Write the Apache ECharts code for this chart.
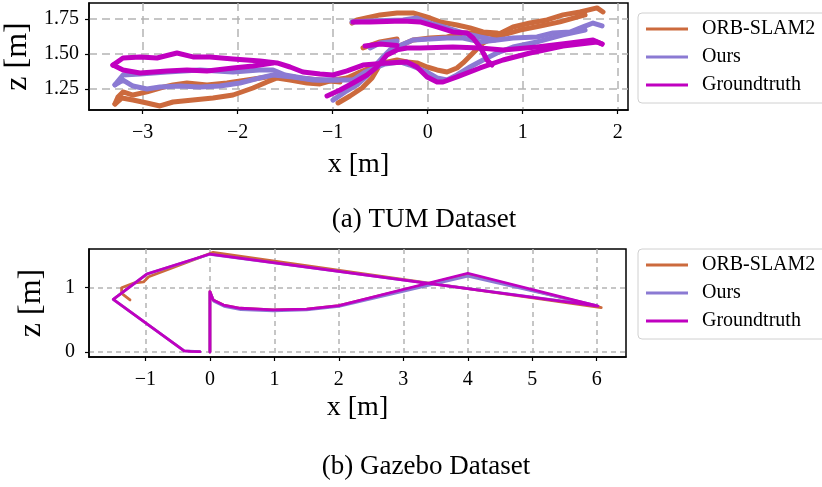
<!DOCTYPE html>
<html>
<head>
<meta charset="utf-8">
<script src="https://cdn.jsdelivr.net/npm/echarts@6/dist/echarts.min.js"></script>
<style>
  html, body { margin: 0; padding: 0; background: #fff; }
  #chart { width: 822px; height: 487px; }
</style>
</head>
<body>
<div id="chart"></div>
<script>
// tick values
const tumXTicks = [-3, -2, -1, 0, 1, 2]
const tumZTicks = [1.25, 1.5, 1.75]
const gzXTicks = [-1, 0, 1, 2, 3, 4, 5, 6]
const gzZTicks = [0, 1]

// TUM trajectories [x, z], each method split into polylines
const tumOrb = [
  [[-3.292,1.143],[-3.218,1.186],[-3.102,1.171],[-2.955,1.150],[-2.818,1.129],[-2.681,1.157],[-2.471,1.171],[-2.260,1.186],[-2.049,1.207],[-1.839,1.257],[-1.692,1.300],[-1.586,1.329],[-1.449,1.314],[-1.271,1.293],[-1.134,1.286],[-0.997,1.314],[-0.849,1.329]],
  [[-3.292,1.143],[-3.260,1.193],[-3.207,1.229],[-3.102,1.207],[-2.955,1.229],[-2.818,1.257],[-2.681,1.279],[-2.534,1.293],[-2.323,1.279],[-2.113,1.293],[-1.902,1.314],[-1.692,1.336],[-1.502,1.343],[-1.344,1.329],[-1.134,1.314],[-0.923,1.300]],
  [[-0.944,1.150],[-0.818,1.200],[-0.691,1.257],[-0.586,1.329],[-0.524,1.400],[-0.471,1.471],[-0.397,1.514],[-0.323,1.550],[-0.155,1.600],[0.024,1.614],[0.203,1.621],[0.372,1.650],[0.551,1.650],[0.729,1.636],[0.898,1.693],[1.077,1.721],[1.256,1.743],[1.424,1.779],[1.603,1.800],[1.782,1.829],[1.845,1.800]],
  [[-0.849,1.329],[-0.713,1.371],[-0.607,1.400],[-0.471,1.436],[-0.323,1.457],[-0.218,1.443],[-0.113,1.436],[-0.007,1.407],[0.098,1.386],[0.203,1.371],[0.308,1.400],[0.372,1.436],[0.477,1.507],[0.582,1.579],[0.687,1.614],[0.792,1.636],[0.971,1.671],[1.182,1.700],[1.392,1.729],[1.656,1.779]],
  [[-0.797,1.721],[-0.744,1.743],[-0.502,1.779],[-0.323,1.793],[-0.155,1.793],[0.024,1.757],[0.129,1.729],[0.308,1.707],[0.445,1.686],[0.582,1.657],[0.729,1.650]],
  [[-0.681,1.543],[-0.502,1.586],[-0.323,1.607]]
]
const tumOurs = [
  [[-3.292,1.279],[-3.207,1.314],[-3.102,1.271],[-2.955,1.250],[-2.818,1.264],[-2.607,1.271],[-2.397,1.264],[-2.187,1.271],[-1.976,1.293],[-1.765,1.329],[-1.628,1.350],[-1.418,1.336],[-1.207,1.314],[-0.997,1.314],[-0.786,1.314]],
  [[-3.292,1.279],[-3.207,1.350],[-3.028,1.357],[-2.744,1.371],[-2.397,1.386],[-2.049,1.371],[-1.776,1.386],[-1.628,1.386],[-1.502,1.350],[-1.323,1.329],[-1.155,1.314],[-0.944,1.314]],
  [[-0.997,1.171],[-0.870,1.229],[-0.744,1.279],[-0.639,1.343],[-0.555,1.414],[-0.481,1.471],[-0.397,1.529],[-0.155,1.600],[0.203,1.614],[0.372,1.614],[0.551,1.586],[0.729,1.600],[0.898,1.614],[1.151,1.621],[1.319,1.650],[1.498,1.657],[1.635,1.693],[1.740,1.721],[1.835,1.700]],
  [[-0.786,1.314],[-0.660,1.371],[-0.450,1.429],[-0.292,1.443],[-0.187,1.421],[-0.007,1.371],[0.098,1.329],[0.203,1.314],[0.308,1.350],[0.445,1.407],[0.582,1.457],[0.729,1.507],[0.898,1.550],[1.151,1.586],[1.424,1.636],[1.656,1.671]],
  [[-0.797,1.729],[-0.607,1.736],[-0.260,1.743],[-0.113,1.757],[0.024,1.721],[0.203,1.686],[0.372,1.650],[0.551,1.621],[0.708,1.600]],
  [[-0.607,1.543],[-0.502,1.579],[-0.323,1.593]]
]
const tumGt = [
  [[-3.313,1.421],[-3.207,1.471],[-3.028,1.479],[-2.849,1.471],[-2.639,1.507],[-2.471,1.479],[-2.292,1.479],[-2.049,1.464],[-1.765,1.450],[-1.586,1.436],[-1.449,1.407],[-1.313,1.371],[-1.134,1.357],[-0.997,1.350],[-0.849,1.379],[-0.681,1.421],[-0.428,1.436],[-0.218,1.443],[-0.113,1.407],[-0.007,1.336],[0.098,1.300],[0.161,1.300],[0.308,1.336],[0.551,1.400],[0.793,1.457],[1.077,1.507],[1.424,1.557],[1.782,1.586],[1.835,1.571]],
  [[-3.313,1.421],[-3.207,1.386],[-3.028,1.364],[-2.744,1.379],[-2.534,1.386],[-2.323,1.379],[-2.049,1.400],[-1.839,1.414],[-1.628,1.436]],
  [[-1.060,1.200],[-0.923,1.243],[-0.786,1.293],[-0.639,1.350],[-0.534,1.407],[-0.428,1.493],[-0.323,1.529],[-0.218,1.543],[-0.081,1.543],[0.266,1.550],[0.551,1.543],[0.793,1.529],[1.151,1.550],[1.498,1.579],[1.740,1.600],[1.835,1.571]],
  [[-0.786,1.729],[-0.607,1.729],[-0.260,1.736],[-0.081,1.729],[0.098,1.693],[0.266,1.657],[0.414,1.650],[0.477,1.614],[0.551,1.550],[0.624,1.457],[0.677,1.421]],
  [[-0.660,1.557],[-0.500,1.571],[-0.323,1.560]]
]

// Gazebo trajectories [x, z]
const gzOrb = [[0,0],[0,0.94],[0.05,0.81],[0.21,0.73],[0.47,0.68],[0.98,0.655],[1.5,0.668],[2.0,0.72],[4.0,1.21],[6.07,0.69],[0.05,1.55],[-0.95,1.17],[-1.03,1.09],[-1.19,1.07],[-1.37,1.0],[-1.37,0.91],[-1.24,0.81]]
const gzOurs = [[0,0],[0,0.93],[0.06,0.79],[0.22,0.71],[0.48,0.66],[0.98,0.64],[1.5,0.655],[2.0,0.71],[4.0,1.18],[6.0,0.72],[0.0,1.52],[-0.98,1.21],[-1.5,0.82],[-0.4,0.016],[-0.155,0.005]]
const gzGt = [[0,0],[0,0.94],[0.05,0.81],[0.21,0.73],[0.47,0.68],[0.98,0.655],[1.5,0.668],[2.0,0.72],[4.0,1.225],[6.02,0.715],[0.0,1.524],[-0.98,1.213],[-1.5,0.82],[-0.4,0.016],[-0.37,0.03],[-0.3,0.01],[-0.155,0.005]]

const colors = { orb: '#cc6a3d', ours: '#8b7ad3', gt: '#c000c0' }
const FONT = 'Liberation Serif'

function minus(v) {
  return String(v).replace('-', '\u2212')
}

function lineSeries(name, segs, color, width, idx) {
  return segs.map((s) => ({
    type: 'line',
    name: name,
    data: s,
    xAxisIndex: idx,
    yAxisIndex: idx,
    symbol: 'none',
    smooth: false,
    silent: true,
    lineStyle: { color: color, width: width, cap: 'round', join: 'round' },
    itemStyle: { color: color },
  }))
}

function xAxisOf(idx, min, max, ticks, gap, dash) {
  return {
    type: 'value',
    gridIndex: idx,
    min: min,
    max: max,
    name: 'x [m]',
    nameLocation: 'middle',
    nameGap: gap,
    nameTextStyle: { fontFamily: FONT, fontSize: 28, color: '#000' },
    axisLine: { show: true, onZero: false, lineStyle: { color: '#000', width: 1.5 } },
    axisTick: { show: true, customValues: ticks, length: 4, lineStyle: { color: '#000', width: 1.2 } },
    axisLabel: { customValues: ticks, margin: 13, fontFamily: FONT, fontSize: 20, color: '#000', formatter: minus },
    splitLine: { show: true, lineStyle: { color: '#b4b4b4', type: dash, width: 1.5 } },
  }
}

function yAxisOf(idx, min, max, ticks, gap, fmt, margin, dash) {
  return {
    type: 'value',
    gridIndex: idx,
    min: min,
    max: max,
    name: 'z [m]',
    nameLocation: 'middle',
    nameGap: gap,
    nameTextStyle: { fontFamily: FONT, fontSize: 32, color: '#000' },
    axisLine: { show: true, onZero: false, lineStyle: { color: '#000', width: 1.5 } },
    axisTick: { show: true, customValues: ticks, length: 4, lineStyle: { color: '#000', width: 1.2 } },
    axisLabel: { customValues: ticks, margin: margin, fontFamily: FONT, fontSize: 20, color: '#000', formatter: fmt },
    splitLine: { show: true, lineStyle: { color: '#b4b4b4', type: dash, width: 1.5 } },
  }
}

function legendOf(top) {
  return {
    orient: 'vertical',
    left: 638,
    top: top,
    data: ['ORB-SLAM2', 'Ours', 'Groundtruth'],
    icon: 'rect',
    itemWidth: 42,
    itemHeight: 3,
    itemGap: 8,
    selectedMode: false,
    padding: [6, 30, 8, 8],
    backgroundColor: '#fff',
    borderColor: '#d0d0d0',
    borderWidth: 1,
    borderRadius: 4,
    textStyle: { fontFamily: FONT, fontSize: 20, lineHeight: 19, color: '#000', padding: [0, 0, 0, 9] },
  }
}

const myChart = echarts.init(document.getElementById('chart'), null, { renderer: 'canvas' })

myChart.setOption({
  animation: false,
  title: [
    { text: '(a) TUM Dataset', left: 419, top: 201, textAlign: 'center', textStyle: { fontFamily: FONT, fontSize: 27, fontWeight: 'normal', color: '#000' } },
    { text: '(b) Gazebo Dataset', left: 421, top: 448, textAlign: 'center', textStyle: { fontFamily: FONT, fontSize: 27, fontWeight: 'normal', color: '#000' } },
  ],
  legend: [legendOf(13), legendOf(249)],
  grid: [
    { left: 89, top: 3, width: 539, height: 107, show: true, borderColor: '#000', borderWidth: 1.5, outerBoundsMode: 'none' },
    { left: 89, top: 249, width: 537, height: 108, show: true, borderColor: '#000', borderWidth: 1.5, outerBoundsMode: 'none' },
  ],
  xAxis: [
    xAxisOf(0, -3.565, 2.108, tumXTicks, 41, [8, 5]),
    xAxisOf(1, -1.876, 6.454, gzXTicks, 37, [5, 4]),
  ],
  yAxis: [
    yAxisOf(0, 1.1, 1.864, tumZTicks, 47, (v) => v.toFixed(2), 10, [8, 5]),
    yAxisOf(1, -0.078, 1.602, gzZTicks, 41, minus, 14, [5, 4]),
  ],
  series: [].concat(
    lineSeries('ORB-SLAM2', tumOrb, colors.orb, 5, 0),
    lineSeries('Ours', tumOurs, colors.ours, 5, 0),
    lineSeries('Groundtruth', tumGt, colors.gt, 5, 0),
    lineSeries('ORB-SLAM2', [gzOrb], colors.orb, 2.8, 1),
    lineSeries('Ours', [gzOurs], colors.ours, 2.8, 1),
    lineSeries('Groundtruth', [gzGt], colors.gt, 2.8, 1)
  ),
})
</script>
</body>
</html>
